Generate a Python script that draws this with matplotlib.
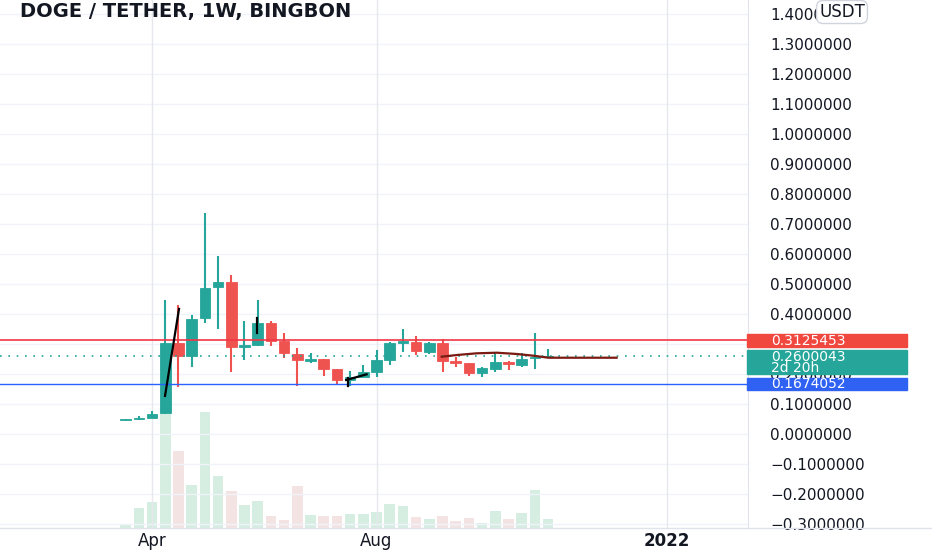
import numpy as np
import pandas as pd
import matplotlib
matplotlib.use("Agg")
import matplotlib.pyplot as plt
from matplotlib import transforms
from matplotlib.patches import Rectangle
from matplotlib.lines import Line2D

# weekly DOGE/USDT candles (weeks start on Thursday)
START = "2021-03-18"
OPEN = [0.048, 0.050, 0.052, 0.069, 0.303, 0.260, 0.387, 0.490, 0.507, 0.289, 0.297,
        0.369, 0.310, 0.267, 0.244, 0.249, 0.216, 0.180, 0.190, 0.207, 0.247, 0.304,
        0.307, 0.273, 0.302, 0.244, 0.236, 0.205, 0.216, 0.241, 0.230, 0.253, 0.258]
HIGH = [0.051, 0.061, 0.078, 0.447, 0.430, 0.397, 0.737, 0.593, 0.530, 0.377, 0.447,
        0.378, 0.336, 0.286, 0.271, 0.250, 0.217, 0.210, 0.230, 0.280, 0.307, 0.349,
        0.327, 0.307, 0.317, 0.257, 0.237, 0.224, 0.272, 0.242, 0.269, 0.338, 0.283]
LOW = [0.047, 0.047, 0.052, 0.066, 0.157, 0.223, 0.371, 0.350, 0.207, 0.247, 0.293,
       0.293, 0.252, 0.160, 0.236, 0.193, 0.167, 0.160, 0.190, 0.190, 0.230, 0.274,
       0.263, 0.267, 0.208, 0.224, 0.193, 0.191, 0.208, 0.213, 0.224, 0.216, 0.257]
CLOSE = [0.050, 0.052, 0.066, 0.303, 0.260, 0.383, 0.487, 0.507, 0.289, 0.297, 0.369,
         0.311, 0.269, 0.247, 0.249, 0.216, 0.180, 0.190, 0.207, 0.247, 0.304, 0.310,
         0.278, 0.302, 0.244, 0.236, 0.205, 0.219, 0.241, 0.233, 0.250, 0.258, 0.260]
VOLUME = [30, 200, 260, 1230, 766, 430, 1160, 520, 370, 230, 266, 123, 83, 416, 133,
          116, 123, 143, 140, 156, 236, 216, 110, 93, 123, 73, 103, 50, 173, 90, 153,
          376, 93]

LAST, RES, SUP = 0.2600043, 0.3125453, 0.1674052
COUNTDOWN = "2d 20h"
XLABELS = [("2021-04-01", "Apr"), ("2021-08-01", "Aug"), ("2022-01-01", "2022")]

# user drawings on the chart: (bar index, price)
DRAW_BLACK = [[(2.98, 0.127), (4.04, 0.417)],
              [(9.95, 0.387), (9.95, 0.337)],
              [(16.7, 0.180), (18.25, 0.199)],
              [(16.85, 0.186), (16.85, 0.160)]]
DRAW_CURVE = [(23.94, 0.2577), (25.08, 0.2633), (26.59, 0.2690), (28.11, 0.2710),
              (29.63, 0.2667), (30.89, 0.2610), (32.02, 0.2543), (33.41, 0.2543),
              (37.19, 0.2543)]

GREEN, RED, BLUE = "#26a69a", "#ef5350", "#2962ff"
TXT, GRID = "#131722", "#f0f3fa"
FS = 11

dates = pd.date_range(START, periods=len(OPEN), freq="7D")
x = np.arange(len(OPEN))
O, H, L, C, V = map(np.array, (OPEN, HIGH, LOW, CLOSE, VOLUME))
up = C >= O
col = np.where(up, GREEN, RED)

fig = plt.figure(figsize=(9.32, 5.5), dpi=100)
rect = [0, 22 / 550, 748 / 932, 528 / 550]

axv = fig.add_axes(rect)
axv.bar(x, V, width=0.8, color=np.where(up, "#d6eee2", "#f3e3e3"))
axv.set_ylim(0, 5280)
axv.axis("off")

ax = fig.add_axes(rect, sharex=axv)
ax.patch.set_alpha(0)
ax.set_xlim(-9.52, 47.14)
ax.set_ylim(-0.3133, 1.4467)

ticks = np.round(np.arange(-0.3, 1.41, 0.1), 1)
for t in ticks:
    ax.axhline(t, color=GRID, lw=1, zorder=0)
xt = [(pd.Timestamp(d) - dates[0]).days // 7 for d, _ in XLABELS]
for v in xt:
    ax.axvline(v, color="#e6e8ee", lw=1, zorder=0)

ax.vlines(x, L, H, color=col, lw=1.5, zorder=3)
ax.bar(x, np.abs(C - O), bottom=np.minimum(O, C), width=0.8, color=col,
       edgecolor=col, lw=0.6, zorder=3)

ax.axhline(RES, color="#f23645", lw=1.2, zorder=4)
ax.axhline(SUP, color=BLUE, lw=1, zorder=4)
ax.axhline(LAST, color=GREEN, lw=1.2, ls=(0, (1, 4)), zorder=4)

for seg in DRAW_BLACK:
    ax.plot(*zip(*seg), color="black", lw=1.6, zorder=5)
ax.plot(*zip(*DRAW_CURVE), color="#7a1a12", lw=1.6, zorder=5)

# the 0.3 label sits fully under the red price box in the original
ax.yaxis.tick_right()
ax.set_yticks(ticks)
ax.set_yticklabels(["" if t == 0.3 else f"{t:.7f}".replace("-", "\u2212") for t in ticks])
ax.tick_params(axis="y", length=0, pad=16, labelsize=FS, labelcolor=TXT)
ax.set_xticks(xt)
ax.set_xticklabels([lab for _, lab in XLABELS])
ax.tick_params(axis="x", length=0, pad=3, labelsize=FS + 1, labelcolor=TXT)
ax.get_xticklabels()[-1].set_fontweight("bold")
for s in ("top", "left", "bottom"):
    ax.spines[s].set_visible(False)
ax.spines["right"].set_color("#e0e3eb")
fig.add_artist(Line2D([0, 1], [22 / 550] * 2, color="#e0e3eb", lw=1,
                      transform=fig.transFigure))

# price labels on the right scale
tr = transforms.blended_transform_factory(ax.transAxes, ax.transData)
x0, w, tx = 747 / 748, 160 / 748, 771 / 748
boxes = [(RES, 0.0217, 0.0217, "#f0473f", [f"{RES:.7f}"]),
         (LAST, 0.021, 0.059, GREEN, [f"{LAST:.7f}", COUNTDOWN]),
         (SUP, 0.020, 0.020, "#2f62f3", [f"{SUP:.7f}"])]
for p, up_h, dn_h, c, lines in boxes:
    ax.add_patch(Rectangle((x0, p - dn_h), w, up_h + dn_h, transform=tr, color=c,
                           clip_on=False, zorder=6))
    for k, s in enumerate(lines):
        ax.text(tx, p - 0.002 - k * 0.038, s, transform=tr, color="white",
                fontsize=FS - 1, va="center", ha="left", zorder=7, clip_on=False)

fig.text(20 / 932, 1 - 12 / 550, "DOGE / TETHER, 1W, BINGBON", fontsize=14,
         fontweight="bold", color=TXT, va="center", ha="left")
fig.text(842 / 932, 1 - 12 / 550, "USDT", fontsize=12, color=TXT, va="center",
         ha="center", zorder=10,
         bbox=dict(boxstyle="round,pad=0.15,rounding_size=0.4", fc="white",
                   ec="#d1d4dc", lw=1))

fig.savefig("out.png", dpi=100)
